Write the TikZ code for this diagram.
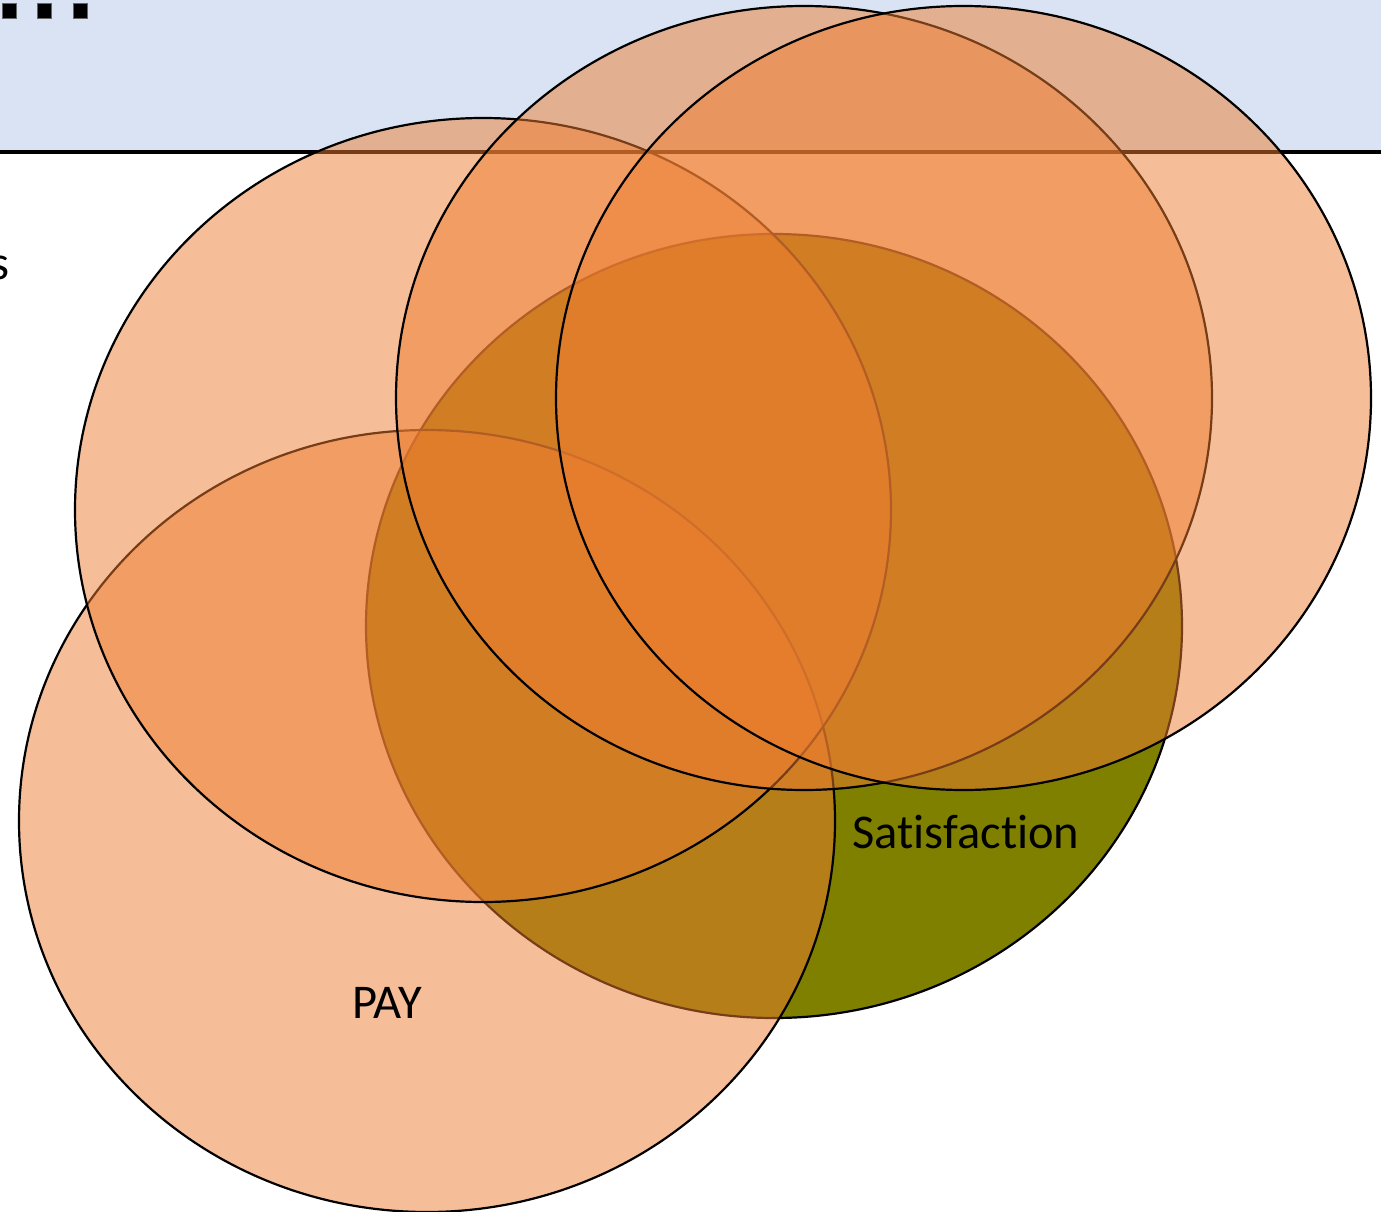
\documentclass[tikz,border=0pt]{standalone}
\usepackage{fontspec}
\setmainfont[Ligatures=NoCommon]{Carlito}
\definecolor{band}{HTML}{DAE3F3}
\definecolor{accent}{HTML}{ED7D31}
\definecolor{olive}{HTML}{808000}
\begin{document}
\begin{tikzpicture}[x=1pt,y=-1pt,
  setcircle/.style={draw=black,line width=2.2pt,fill=accent,fill opacity=0.5,draw opacity=1},
  solidcircle/.style={draw=black,line width=2.2pt,fill=olive},
  label/.style={font=\fontsize{48.5}{58}\selectfont,text=black,inner sep=0pt},
  dot/.style={fill=black,draw=black!60,line width=0.6pt}]
\useasboundingbox (0,0) rectangle (1381,1212);
\begin{scope}
\clip (0,0) rectangle (1381,1212);
% header band with its bottom rule
\fill[band] (0,0) rectangle (1381,152);
\draw[line width=3pt] (0,152) -- (1381,152);
\fill[dot] (2,3) rectangle (16,18);
\fill[dot] (37,3) rectangle (51,18);
\fill[dot] (73,3) rectangle (87,18);
\node[label,anchor=base east] (cut) at (10,279) {s};
% overlapping sets, drawn bottom to top
\path[solidcircle] (774,626) ellipse [x radius=408,y radius=392];
\coordinate (satc) at (774,626);
\path[setcircle] (427,821) ellipse [x radius=408,y radius=391];
\path[setcircle] (483,510) ellipse [x radius=408,y radius=392];
\path[setcircle] (804,398) ellipse [x radius=408,y radius=392];
\path[setcircle] (963.5,398) ellipse [x radius=407.5,y radius=392];
\end{scope}
\node[label] (pay) at (387,1003) {PAY};
\node[label] (sat) at (966,832) {Satisfaction};
\end{tikzpicture}
\end{document}
